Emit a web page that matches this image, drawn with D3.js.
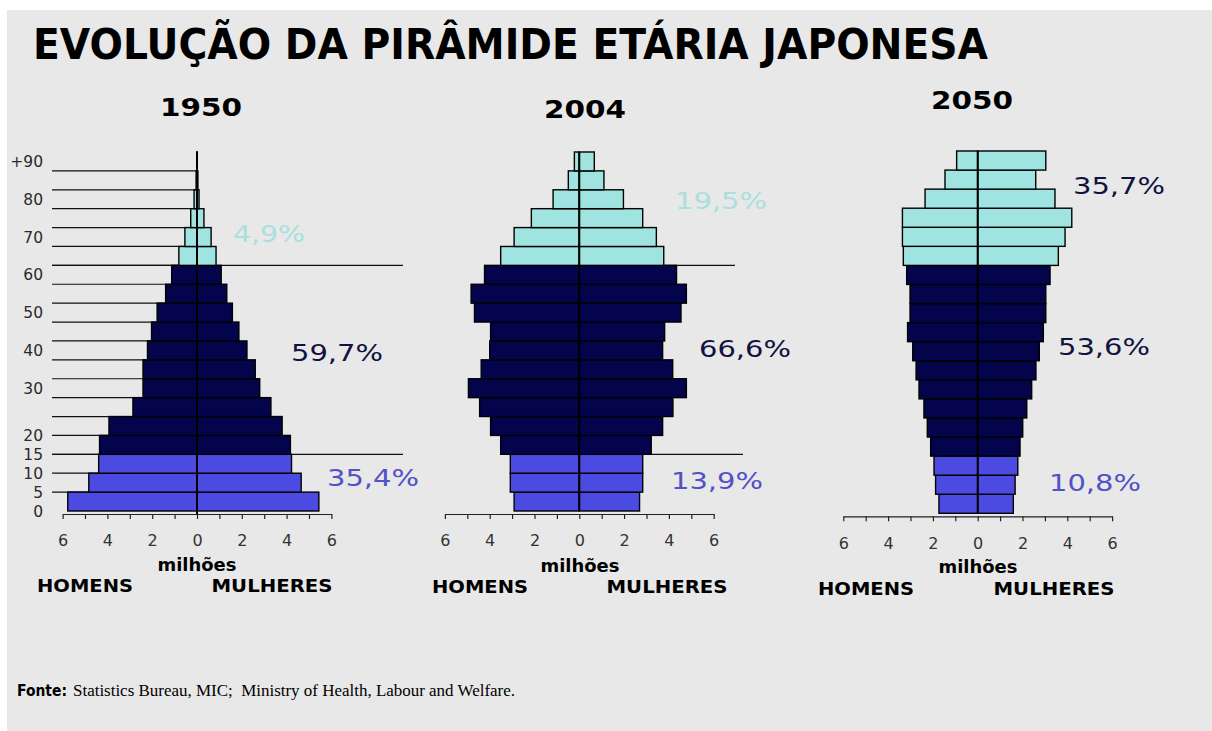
<!DOCTYPE html>
<html><head><meta charset="utf-8">
<script src="https://cdn.jsdelivr.net/npm/d3@7"></script>
<style>html,body{margin:0;padding:0;background:#fff;}svg{display:block;}</style>
</head><body>
<script>
// ---------- DATA ----------
const years = ["1950", "2004", "2050"];
const ageGroups = ["0-4","5-9","10-14","15-19","20-24","25-29","30-34","35-39","40-44","45-49","50-54","55-59","60-64","65-69","70-74","75-79","80-84","85-89","90+"];
const ageStart = [0,5,10,15,20,25,30,35,40,45,50,55,60,65,70,75,80,85,90];
// population in millions, from age 0-4 up to 90+
const men1950   = [5.77,4.83,4.39,4.35,3.93,2.86,2.41,2.41,2.21,2.03,1.78,1.40,1.13,0.81,0.54,0.28,0.13,0.04,0.01];
const women1950 = [5.44,4.65,4.22,4.17,3.80,3.30,2.80,2.60,2.23,1.87,1.58,1.33,1.08,0.85,0.63,0.31,0.09,0.04,0.01];
const men2004   = [2.91,3.08,3.08,3.51,3.96,4.45,4.95,4.38,4.00,3.96,4.68,4.83,4.23,3.51,2.91,2.14,1.17,0.49,0.22];
const women2004 = [2.69,2.83,2.83,3.21,3.72,4.18,4.78,4.17,3.72,3.81,4.54,4.78,4.34,3.77,3.44,2.83,1.97,1.10,0.67];
const men2050   = [1.73,1.88,1.95,2.10,2.25,2.40,2.62,2.75,2.90,3.13,3.02,3.02,3.17,3.32,3.36,3.36,2.35,1.46,0.94];
const women2050 = [1.59,1.67,1.79,1.89,2.01,2.19,2.41,2.60,2.75,2.93,3.04,3.04,3.23,3.60,3.90,4.20,3.45,2.59,3.04];
const pctYoung   = ["35,4%", "13,9%", "10,8%"];
const pctWorking = ["59,7%", "66,6%", "53,6%"];
const pctOld     = ["4,9%", "19,5%", "35,7%"];
const xTicks = [-6,-5,-4,-3,-2,-1,0,1,2,3,4,5,6];
const yTickLabels = ["0","5","10","15","20","30","40","50","60","70","80","+90"];
const yTickAges   = [0,5,10,15,20,32.5,42.5,52.5,62.5,72.5,82.5,92.5];
const gridAges = [5,10,15,20,25,30,35,40,45,50,55,60,65,70,75,80,85,90];

const menAll = [men1950, men2004, men2050];
const womenAll = [women1950, women2004, women2050];

// ---------- STYLE / LAYOUT ----------
const W = 1212, H = 731;
const C_BLUE = "#4b4be2", C_NAVY = "#04044c", C_CYAN = "#9fe4e1";
const T_BLUE = "#5252c6", T_NAVY = "#121240", T_CYAN = "#a9e0df";
const panels = [
  {cx: 197,   yb: 511,   yt: 152, pos: [[373,486],[337,361],[269,242]], sep: [[52,403],[52,403]], yAxis: true},
  {cx: 579.3, yb: 511,   yt: 152, pos: [[717,489],[745,357],[721,209]], sep: [[579.3,743],[579.3,735]]},
  {cx: 977.7, yb: 513.3, yt: 151, pos: [[1095,491],[1104,355],[1119,194]], sep: null}
];
const K = 22.4; // px per million
const yearPos = [[201,116],[585,118],[972,109]];
const labelPos = [
  {mil:[197,571], hom:[85,592], mul:[272,592]},
  {mil:[580,572], hom:[480,593], mul:[667,593]},
  {mil:[978,573], hom:[866,595], mul:[1054,595]}
];

const svg = d3.select("body").append("svg").attr("width", W).attr("height", H);
svg.append("rect").attr("x", 7).attr("y", 10).attr("width", W - 7).attr("height", H - 10).attr("fill", "#e8e8e8");

// Title
svg.append("text").attr("x", 33).attr("y", 59)
  .attr("font-family", "DejaVu Sans").attr("font-weight", "bold").attr("font-size", 43)
  .attr("textLength", 955).attr("lengthAdjust", "spacingAndGlyphs").attr("fill", "#000")
  .text("EVOLUÇÃO DA PIRÂMIDE ETÁRIA JAPONESA");

function colorFor(age) { return age < 15 ? C_BLUE : (age < 65 ? C_NAVY : C_CYAN); }

panels.forEach((p, i) => {
  const g = svg.append("g");
  const x = d3.scaleLinear().domain([-6, 6]).range([p.cx - 6 * K, p.cx + 6 * K]);
  const y = d3.scaleLinear().domain([0, 95]).range([p.yb, p.yt]);
  const men = menAll[i], women = womenAll[i];

  // year label
  svg.append("text").attr("x", yearPos[i][0]).attr("y", yearPos[i][1]).attr("text-anchor", "middle")
    .attr("font-family", "DejaVu Sans").attr("font-weight", "bold").attr("font-size", 25)
    .attr("textLength", 82).attr("lengthAdjust", "spacingAndGlyphs").text(years[i]);

  // gridlines (1950 only)
  if (p.yAxis) {
    g.selectAll("line.grid").data(gridAges).join("line")
      .attr("x1", 52).attr("x2", x(0)).attr("y1", d => y(d)).attr("y2", d => y(d))
      .attr("stroke", "#111").attr("stroke-width", 1.2);
    g.selectAll("text.ytick").data(yTickLabels).join("text")
      .attr("x", 43).attr("y", (d, j) => y(yTickAges[j])).attr("dy", "0.36em")
      .attr("text-anchor", "end").attr("font-family", "DejaVu Sans").attr("font-size", 15.5)
      .attr("fill", "#2a2a2a").text(d => d);
  }
  // separators at 15 and 65
  if (p.sep) {
    [15, 65].forEach((a, j) => {
      g.append("line").attr("x1", p.sep[j][0]).attr("x2", p.sep[j][1])
        .attr("y1", y(a)).attr("y2", y(a)).attr("stroke", "#111").attr("stroke-width", 1.2);
    });
  }

  // bars
  const rows = ageStart.map((a, j) => ({a, m: men[j], w: women[j]}));
  g.selectAll("rect.m").data(rows).join("rect")
    .attr("x", d => x(-d.m)).attr("width", d => x(0) - x(-d.m))
    .attr("y", d => y(d.a + 5)).attr("height", d => y(d.a) - y(d.a + 5))
    .attr("fill", d => colorFor(d.a)).attr("stroke", "#000").attr("stroke-width", 1.4);
  g.selectAll("rect.w").data(rows).join("rect")
    .attr("x", x(0)).attr("width", d => x(d.w) - x(0))
    .attr("y", d => y(d.a + 5)).attr("height", d => y(d.a) - y(d.a + 5))
    .attr("fill", d => colorFor(d.a)).attr("stroke", "#000").attr("stroke-width", 1.4);

  // center line
  g.append("line").attr("x1", x(0)).attr("x2", x(0)).attr("y1", y(95))
    .attr("y2", p.yAxis ? p.yb + 3 : p.yb).attr("stroke", "#000").attr("stroke-width", 2);

  // x axis
  const axY = p.yb + 3;
  const ax = g.append("g").attr("transform", `translate(0,${axY})`)
    .call(d3.axisBottom(x).tickValues(xTicks).tickSize(5).tickSizeOuter(0).tickPadding(16)
      .tickFormat(d => (d % 2 === 0 ? String(Math.abs(d)) : "")));
  ax.select(".domain").attr("stroke", "#222").attr("stroke-width", 1.2);
  ax.selectAll(".tick line").attr("stroke", "#222").attr("stroke-width", 1.2);
  ax.selectAll(".tick text").attr("font-family", "DejaVu Sans").attr("font-size", 16).attr("fill", "#333");

  // axis captions
  const lp = labelPos[i];
  svg.append("text").attr("x", lp.mil[0]).attr("y", lp.mil[1]).attr("text-anchor", "middle")
    .attr("font-family", "DejaVu Sans").attr("font-weight", "bold").attr("font-size", 17)
    .attr("textLength", 79).attr("lengthAdjust", "spacingAndGlyphs").text("milhões");
  svg.append("text").attr("x", lp.hom[0]).attr("y", lp.hom[1]).attr("text-anchor", "middle")
    .attr("font-family", "DejaVu Sans").attr("font-weight", "bold").attr("font-size", 17)
    .attr("textLength", 96).attr("lengthAdjust", "spacingAndGlyphs").text("HOMENS");
  svg.append("text").attr("x", lp.mul[0]).attr("y", lp.mul[1]).attr("text-anchor", "middle")
    .attr("font-family", "DejaVu Sans").attr("font-weight", "bold").attr("font-size", 17)
    .attr("textLength", 121).attr("lengthAdjust", "spacingAndGlyphs").text("MULHERES");

  // percentages
  const pcts = [pctYoung[i], pctWorking[i], pctOld[i]];
  const cols = [T_BLUE, T_NAVY, i === 2 ? T_NAVY : T_CYAN];
  pcts.forEach((t, j) => {
    svg.append("text").attr("x", p.pos[j][0]).attr("y", p.pos[j][1]).attr("text-anchor", "middle")
      .attr("font-family", "DejaVu Sans").attr("font-size", 23).attr("fill", cols[j])
      .attr("textLength", t.length === 4 ? 72 : 92).attr("lengthAdjust", "spacingAndGlyphs").text(t);
  });
});

// Source
svg.append("text").attr("x", 17).attr("y", 696).attr("font-family", "DejaVu Sans").attr("font-weight", "bold")
  .attr("font-size", 15).attr("textLength", 50).attr("lengthAdjust", "spacingAndGlyphs").text("Fonte:");
svg.append("text").attr("x", 73).attr("y", 696).attr("font-family", "Liberation Serif")
  .attr("font-size", 16).attr("textLength", 442).attr("lengthAdjust", "spacingAndGlyphs")
  .attr("xml:space", "preserve").style("white-space", "pre")
  .text("Statistics Bureau, MIC;  Ministry of Health, Labour and Welfare.");
</script>
</body></html>
